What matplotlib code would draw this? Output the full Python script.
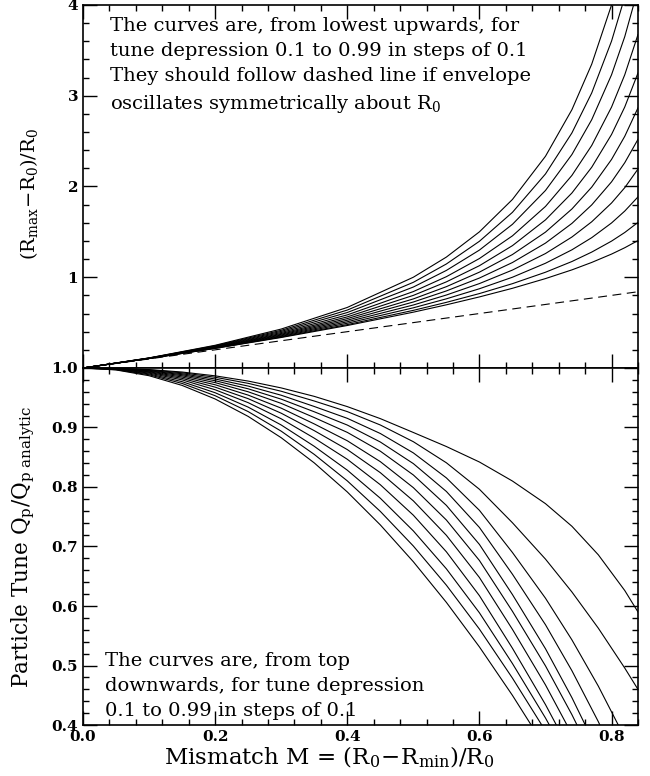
import matplotlib
matplotlib.use("Agg")
import matplotlib.pyplot as plt
from matplotlib.ticker import MultipleLocator, FixedLocator, FixedFormatter

m_top = [0.0, 0.1, 0.2, 0.3, 0.4, 0.5, 0.55, 0.6, 0.65, 0.7, 0.74, 0.77, 0.8, 0.82, 0.84]
m_bot = [0.0, 0.05, 0.1, 0.15, 0.2, 0.25, 0.3, 0.35, 0.4, 0.45, 0.5, 0.55, 0.6,
         0.65, 0.7, 0.74, 0.78, 0.82, 0.84]

# upper panel: (Rmax - R0)/R0, from the lowest curve upwards
rmax_curves = [
    [0, 0.104, 0.216, 0.336, 0.468, 0.615, 0.696, 0.783, 0.878, 0.985, 1.081, 1.163, 1.255, 1.325, 1.404],
    [0, 0.104, 0.217, 0.341, 0.478, 0.635, 0.723, 0.820, 0.929, 1.055, 1.173, 1.277, 1.398, 1.493, 1.604],
    [0, 0.105, 0.220, 0.348, 0.493, 0.663, 0.762, 0.873, 1.000, 1.154, 1.302, 1.436, 1.598, 1.729, 1.885],
    [0, 0.105, 0.223, 0.355, 0.509, 0.694, 0.804, 0.930, 1.079, 1.261, 1.443, 1.611, 1.818, 1.987, 2.192],
    [0, 0.106, 0.226, 0.363, 0.526, 0.727, 0.849, 0.991, 1.162, 1.376, 1.593, 1.797, 2.051, 2.262, 2.519],
    [0, 0.107, 0.229, 0.371, 0.544, 0.761, 0.896, 1.056, 1.250, 1.497, 1.752, 1.993, 2.298, 2.553, 2.866],
    [0, 0.107, 0.232, 0.380, 0.563, 0.800, 0.949, 1.127, 1.348, 1.632, 1.928, 2.212, 2.573, 2.876, 3.250],
    [0, 0.108, 0.236, 0.391, 0.585, 0.842, 1.006, 1.206, 1.456, 1.780, 2.122, 2.452, 2.875, 3.231, 3.673],
    [0, 0.109, 0.240, 0.403, 0.611, 0.892, 1.075, 1.299, 1.583, 1.956, 2.352, 2.736, 3.231, 3.651, 4.173],
    [0, 0.110, 0.245, 0.415, 0.638, 0.944, 1.146, 1.396, 1.715, 2.138, 2.590, 3.031, 3.602, 4.088, 4.692],
    [0, 0.111, 0.250, 0.429, 0.667, 1.000, 1.222, 1.500, 1.857, 2.333, 2.846, 3.348, 4.000, 4.556, 5.250],
]
symmetric = [0.0, 0.84]  # dashed line: (Rmax-R0)/R0 = M

# lower panel: Qp / Qp analytic, from the top curve downwards
# (a curve stops at the first point read below the 0.4 axis limit)
tune_curves = [
    [1.0, 0.9995, 0.9973, 0.9932, 0.9868, 0.978, 0.9665, 0.9523, 0.9351, 0.9149, 0.8916, 0.868,
     0.842, 0.810, 0.772, 0.734, 0.686, 0.626, 0.590],
    [1.0, 0.9993, 0.9968, 0.9919, 0.9844, 0.9742, 0.9609, 0.9445, 0.9267, 0.9042, 0.8761, 0.8407,
     0.7962, 0.7399, 0.6788, 0.6236, 0.5627, 0.4957, 0.4599],
    [1.0, 0.9992, 0.9961, 0.9903, 0.9815, 0.9696, 0.9542, 0.9353, 0.9154, 0.8899, 0.8573, 0.8153,
     0.7608, 0.6899, 0.6131, 0.5431, 0.4653, 0.3788],
    [1.0, 0.999, 0.9954, 0.9887, 0.9786, 0.965, 0.9476, 0.9264, 0.9041, 0.8756, 0.8393, 0.7925,
     0.732, 0.6534, 0.5685, 0.4913, 0.4056, 0.3105],
    [1.0, 0.9988, 0.9946, 0.9869, 0.9754, 0.960, 0.9405, 0.9167, 0.8918, 0.8602, 0.8202, 0.7691,
     0.7035, 0.6192, 0.5282, 0.446, 0.355],
    [1.0, 0.9986, 0.9936, 0.9848, 0.9718, 0.9544, 0.9325, 0.906, 0.8777, 0.8426, 0.7989, 0.7445,
     0.6765, 0.5911, 0.4994, 0.4174, 0.3274],
    [1.0, 0.9983, 0.9926, 0.9825, 0.9678, 0.9484, 0.924, 0.8947, 0.8629, 0.8241, 0.7767, 0.7188,
     0.6479, 0.5607, 0.4674, 0.3845],
    [1.0, 0.998, 0.9914, 0.980, 0.9634, 0.9417, 0.9146, 0.8821, 0.8466, 0.8038, 0.7526, 0.6911,
     0.6174, 0.529, 0.4343, 0.3511],
    [1.0, 0.9976, 0.990, 0.977, 0.9584, 0.9342, 0.9042, 0.8684, 0.8283, 0.7811, 0.7262, 0.6625,
     0.5886, 0.5033, 0.4118, 0.3323],
    [1.0, 0.9972, 0.9886, 0.974, 0.9534, 0.9267, 0.8938, 0.8548, 0.8103, 0.759, 0.7008, 0.635,
     0.5612, 0.4788, 0.390],
    [1.0, 0.9967, 0.987, 0.9707, 0.9479, 0.9186, 0.8828, 0.8405, 0.7917, 0.7363, 0.6744, 0.6061,
     0.5313, 0.4498, 0.362],
]

plt.rcParams["font.family"] = ["DejaVu Serif"]
plt.rcParams["mathtext.fontset"] = "dejavuserif"

fig = plt.figure(figsize=(6.5, 7.76), dpi=100)
ax_top = fig.add_axes([0.1277, 0.5258, 0.8538, 0.4678])
ax_bot = fig.add_axes([0.1277, 0.0657, 0.8538, 0.4601], sharex=ax_top)

for ys in rmax_curves:
    ax_top.plot(m_top, ys, color="black", linewidth=0.8)
ax_top.plot(symmetric, symmetric, color="black", linewidth=0.8, dashes=(8, 5))

for ys in tune_curves:
    ax_bot.plot(m_bot[:len(ys)], ys, color="black", linewidth=0.8)

ax_top.set_xlim(0, 0.84)
ax_top.set_ylim(0, 4)
ax_bot.set_ylim(0.4, 1.0)

for ax in (ax_top, ax_bot):
    ax.xaxis.set_major_locator(FixedLocator([0.0, 0.2, 0.4, 0.6, 0.8]))
    ax.xaxis.set_minor_locator(MultipleLocator(0.04))
    ax.tick_params(which="both", direction="in", top=True, right=True, width=1.0)
    ax.tick_params(which="major", length=10)
    ax.tick_params(which="minor", length=4.5)
    ax.tick_params(labelsize=11)
    for sp in ax.spines.values():
        sp.set_linewidth(1.2)

ax_top.yaxis.set_major_locator(FixedLocator([0, 1, 2, 3, 4]))
ax_top.yaxis.set_major_formatter(FixedFormatter(["", "1", "2", "3", "4"]))
ax_top.yaxis.set_minor_locator(MultipleLocator(0.2))
ax_top.tick_params(labelbottom=False)

ax_bot.xaxis.set_major_formatter(FixedFormatter(["0.0", "0.2", "0.4", "0.6", "0.8"]))
ax_bot.yaxis.set_major_locator(FixedLocator([0.4, 0.5, 0.6, 0.7, 0.8, 0.9, 1.0]))
ax_bot.yaxis.set_major_formatter(FixedFormatter(["0.4", "0.5", "0.6", "0.7", "0.8", "0.9", "1.0"]))
ax_bot.yaxis.set_minor_locator(MultipleLocator(0.02))

for ax in (ax_top, ax_bot):
    for lbl in ax.get_xticklabels() + ax.get_yticklabels():
        lbl.set_fontweight("bold")

ax_top.set_ylabel(r"$\mathrm{(R_{max}\!-\!R_0)/R_0}$", fontsize=14, va="center")
ax_top.yaxis.set_label_coords(-0.097, 0.48)
ax_bot.set_ylabel(r"Particle Tune $\mathrm{Q_p/Q_{p\ analytic}}$", fontsize=15.5, va="center")
ax_bot.yaxis.set_label_coords(-0.108, 0.5)
ax_bot.set_xlabel(r"Mismatch M = $\mathrm{(R_0\!-\!R_{min})/R_0}$", fontsize=16.5, va="center")
ax_bot.xaxis.set_label_coords(0.443, -0.09)

ax_top.text(0.049, 0.967,
            "The curves are, from lowest upwards, for\n"
            "tune depression 0.1 to 0.99 in steps of 0.1\n"
            "They should follow dashed line if envelope\n"
            r"oscillates symmetrically about $\mathrm{R_0}$",
            transform=ax_top.transAxes, ha="left", va="top", fontsize=14,
            linespacing=1.5)
ax_bot.text(0.04, 0.205,
            "The curves are, from top\n"
            "downwards, for tune depression\n"
            "0.1 to 0.99 in steps of 0.1",
            transform=ax_bot.transAxes, ha="left", va="top", fontsize=14,
            linespacing=1.5)

fig.savefig("out.png", dpi=100)
